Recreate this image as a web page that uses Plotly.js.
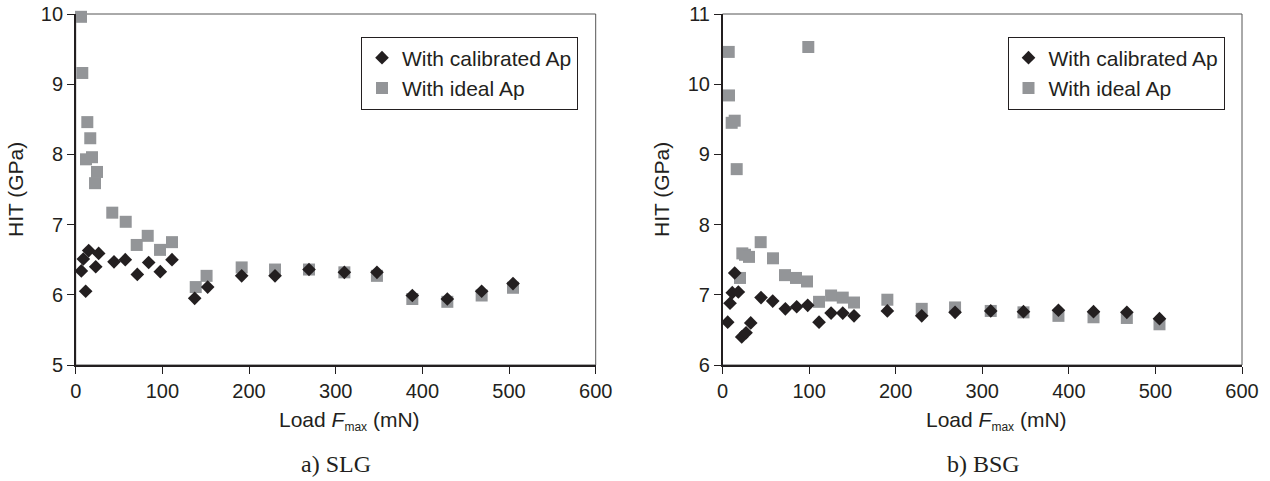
<!DOCTYPE html>
<html>
<head>
<meta charset="utf-8">
<script src="https://cdn.plot.ly/plotly-3.0.1.min.js"></script>
<style>html,body{margin:0;padding:0;background:#fff;}#chart{width:1270px;height:481px;}</style>
</head>
<body>
<div id="chart"></div>
<script>
// ---- Data: a) SLG ----
var slgCalX = [6.5, 8.8, 11.5, 15, 23.1, 26.5, 44.2, 57.2, 71.1, 84.2, 97.6, 111.1, 137.3, 152.3, 191.5, 230, 269.2, 310, 347.6, 388.4, 428.8, 468.4, 504.6];
var slgCalY = [6.34, 6.51, 6.05, 6.63, 6.40, 6.59, 6.47, 6.50, 6.29, 6.46, 6.33, 6.50, 5.95, 6.11, 6.27, 6.27, 6.36, 6.32, 6.32, 5.99, 5.94, 6.05, 6.16];
var slgIdealX = [6.1, 7.6, 11.9, 13.4, 16.8, 18.8, 22.3, 24.6, 42.2, 57.7, 70.4, 83.1, 97.3, 111.1, 138.5, 151, 191.5, 230, 269.2, 310, 347.6, 388.4, 428.8, 468.4, 504.6];
var slgIdealY = [9.96, 9.16, 7.93, 8.46, 8.23, 7.96, 7.59, 7.75, 7.17, 7.04, 6.71, 6.84, 6.64, 6.75, 6.11, 6.27, 6.39, 6.36, 6.36, 6.32, 6.27, 5.94, 5.90, 5.99, 6.10];

// ---- Data: b) BSG ----
var bsgCalX = [6.0, 8.7, 11.3, 14.1, 18.3, 22.2, 27.2, 32.6, 44.5, 58, 72.6, 85.7, 98.4, 111.5, 125.4, 138.9, 151.9, 190.4, 230.1, 268.6, 309.8, 347.6, 388, 428.5, 467, 504.7];
var bsgCalY = [6.61, 6.88, 7.03, 7.31, 7.04, 6.40, 6.46, 6.60, 6.96, 6.91, 6.80, 6.83, 6.85, 6.61, 6.74, 6.74, 6.70, 6.77, 6.70, 6.75, 6.77, 6.76, 6.78, 6.76, 6.75, 6.66];
var bsgIdealX = [7.2, 7.5, 10.6, 14.1, 16.4, 20.2, 22.9, 26, 30.6, 44.1, 58.3, 72.2, 84.9, 97.6, 99.1, 111.5, 125.4, 138.9, 151.9, 190.4, 230.1, 268.6, 309.8, 347.6, 388, 428.5, 467, 504.7];
var bsgIdealY = [10.46, 9.84, 9.45, 9.48, 8.79, 7.24, 7.59, 7.57, 7.54, 7.75, 7.52, 7.28, 7.24, 7.19, 10.53, 6.90, 6.99, 6.96, 6.89, 6.93, 6.80, 6.82, 6.77, 6.75, 6.70, 6.68, 6.67, 6.58];

var seriesNames = ['With calibrated Ap', 'With ideal Ap'];
var xTickVals = [0, 100, 200, 300, 400, 500, 600];
var slgYTicks = [5, 6, 7, 8, 9, 10];
var bsgYTicks = [6, 7, 8, 9, 10, 11];
var panelCaptions = ['a) SLG', 'b) BSG'];

var INK = '#231f20';
var GRAY = '#939598';
var FONT = 'Arial, "Liberation Sans", Helvetica, sans-serif';

function calTrace(x, y, xa, ya, lg) {
  return {x: x, y: y, xaxis: xa, yaxis: ya, type: 'scatter', mode: 'markers', name: seriesNames[0],
    legend: lg, marker: {symbol: 'diamond', size: 10.5, color: INK, line: {width: 0}}, cliponaxis: false};
}
function idealTrace(x, y, xa, ya, lg) {
  return {x: x, y: y, xaxis: xa, yaxis: ya, type: 'scatter', mode: 'markers', name: seriesNames[1],
    legend: lg, marker: {symbol: 'square', size: 12, color: GRAY, line: {width: 0}}, cliponaxis: false};
}

var data = [
  idealTrace(slgIdealX, slgIdealY, 'x', 'y', 'legend'),
  calTrace(slgCalX, slgCalY, 'x', 'y', 'legend'),
  idealTrace(bsgIdealX, bsgIdealY, 'x2', 'y2', 'legend2'),
  calTrace(bsgCalX, bsgCalY, 'x2', 'y2', 'legend2')
];

function xAxis(domain, anchor) {
  return {domain: domain, anchor: anchor, range: [0, 600], tickvals: xTickVals, ticks: 'outside', ticklen: 7,
    tickwidth: 1, tickcolor: INK, showline: true, linecolor: INK, linewidth: 1.6, showgrid: false, zeroline: false,
    tickfont: {family: FONT, size: 20, color: INK}};
}
function yAxis(domain, anchor, range, vals) {
  return {domain: domain, anchor: anchor, range: range, tickvals: vals, ticks: 'outside', ticklen: 7,
    tickwidth: 1, tickcolor: INK, showline: true, linecolor: INK, linewidth: 1.6, showgrid: false, zeroline: false,
    tickfont: {family: FONT, size: 20, color: INK}};
}

var yDom = [1 - 365 / 481, 1 - 14 / 481];
var xTitle = 'Load <i>F</i><sub><span style="font-size:12px">max</span></sub> (mN)';
var layout = {
  width: 1270, height: 481,
  margin: {l: 0, r: 0, t: 0, b: 0},
  paper_bgcolor: '#fff', plot_bgcolor: '#fff',
  font: {family: FONT, color: INK},
  xaxis: xAxis([75.7 / 1270, 595.7 / 1270], 'y'),
  yaxis: yAxis(yDom, 'x', [5, 10], slgYTicks),
  xaxis2: xAxis([722.5 / 1270, 1242 / 1270], 'y2'),
  yaxis2: yAxis(yDom, 'x2', [6, 11], bsgYTicks),
  legend: {x: 361 / 1270, y: 1 - 36.5 / 481, xanchor: 'left', yanchor: 'top', bgcolor: '#fff',
    bordercolor: INK, borderwidth: 1, font: {family: FONT, size: 21, color: INK}, traceorder: 'reversed'},
  legend2: {x: 1007.5 / 1270, y: 1 - 36.5 / 481, xanchor: 'left', yanchor: 'top', bgcolor: '#fff',
    bordercolor: INK, borderwidth: 1, font: {family: FONT, size: 21, color: INK}, traceorder: 'reversed'},
  shapes: [
    {type: 'rect', xref: 'x domain', yref: 'y domain', x0: 0, x1: 1, y0: 0, y1: 1, line: {color: '#555', width: 1}, layer: 'below'},
    {type: 'rect', xref: 'x2 domain', yref: 'y2 domain', x0: 0, x1: 1, y0: 0, y1: 1, line: {color: '#555', width: 1}, layer: 'below'}
  ],
  annotations: [
    {text: xTitle, xref: 'paper', yref: 'paper', x: 349 / 1270, y: 1 - 421 / 481,
      xanchor: 'center', yanchor: 'middle', showarrow: false, font: {family: FONT, size: 21, color: INK}},
    {text: xTitle, xref: 'paper', yref: 'paper', x: 996 / 1270, y: 1 - 421 / 481,
      xanchor: 'center', yanchor: 'middle', showarrow: false, font: {family: FONT, size: 21, color: INK}},
    {text: 'HIT (GPa)', xref: 'paper', yref: 'paper', x: 15 / 1270, y: 1 - 190 / 481, textangle: -90,
      xanchor: 'center', yanchor: 'middle', showarrow: false, font: {family: FONT, size: 21, color: INK}},
    {text: 'HIT (GPa)', xref: 'paper', yref: 'paper', x: 661 / 1270, y: 1 - 190 / 481, textangle: -90,
      xanchor: 'center', yanchor: 'middle', showarrow: false, font: {family: FONT, size: 21, color: INK}},
    {text: panelCaptions[0], xref: 'paper', yref: 'paper', x: 335.5 / 1270, y: 1 - 464 / 481,
      xanchor: 'center', yanchor: 'middle', showarrow: false, font: {family: '"Liberation Serif", "Times New Roman", serif', size: 24, color: INK}},
    {text: panelCaptions[1], xref: 'paper', yref: 'paper', x: 983 / 1270, y: 1 - 464 / 481,
      xanchor: 'center', yanchor: 'middle', showarrow: false, font: {family: '"Liberation Serif", "Times New Roman", serif', size: 24, color: INK}}
  ]
};

Plotly.newPlot('chart', data, layout, {staticPlot: true, displayModeBar: false});
</script>
</body>
</html>
